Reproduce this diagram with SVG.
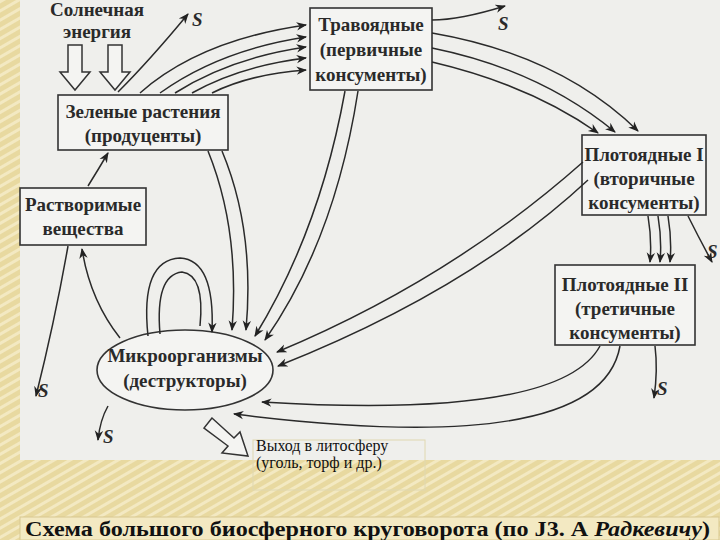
<svg xmlns="http://www.w3.org/2000/svg" width="720" height="540" viewBox="0 0 720 540">
<defs>
<pattern id="st" width="8" height="8" patternUnits="userSpaceOnUse" patternTransform="rotate(60)"><rect width="8" height="8" fill="#e8d9a0"/><rect width="3" height="8" fill="#f3e9c2"/></pattern>
<marker id="a" viewBox="0 0 10 10" refX="9" refY="5" markerWidth="7" markerHeight="7" orient="auto"><path d="M0,1 L10,5 L0,9 L3,5 Z" fill="#222"/></marker>
</defs>
<style>
.n{fill:#f4f4f2;stroke:#333;stroke-width:1.6}
.t{font-family:"Liberation Serif",serif;font-size:19px;font-weight:bold;fill:#2a2a2a;text-anchor:middle}
.s{font-family:"Liberation Serif",serif;font-size:19px;font-style:italic;font-weight:bold;fill:#2a2a2a}
.c path{fill:none;stroke:#2a2a2a;stroke-width:1.5;marker-end:url(#a)}
.h{fill:#f4f4f2;stroke:#333;stroke-width:1.5}
</style>
<rect width="720" height="540" fill="url(#st)"/>
<rect x="20" y="0" width="700" height="460" fill="#efefec"/>
<g id="sun"><text class="t" x="97" y="16">Солнечная</text><text class="t" x="97" y="38">энергия</text>
<path class="h" d="M68,45 H82 V72 H90 L75,90 L60,72 H68 Z"/><path class="h" d="M108,45 H122 V72 H130 L115,90 L100,72 H108 Z"/></g>
<g id="plants"><rect class="n" x="58" y="95" width="170" height="55"/><text class="t" x="143" y="118">Зеленые растения</text><text class="t" x="143" y="142">(продуценты)</text></g>
<g id="herb"><rect class="n" x="310" y="8" width="122" height="82"/><text class="t" x="371" y="31">Травоядные</text><text class="t" x="371" y="56">(первичные</text><text class="t" x="371" y="81">консументы)</text></g>
<g id="carn1"><rect class="n" x="582" y="135" width="124" height="80"/><text class="t" x="644" y="161">Плотоядные I</text><text class="t" x="644" y="185">(вторичные</text><text class="t" x="644" y="209">консументы)</text></g>
<g id="carn2"><rect class="n" x="555" y="265" width="140" height="80"/><text class="t" x="625" y="291">Плотоядные II</text><text class="t" x="625" y="315">(третичные</text><text class="t" x="625" y="339">консументы)</text></g>
<g id="soluble"><rect class="n" x="20" y="188" width="126" height="57"/><text class="t" x="83" y="211">Растворимые</text><text class="t" x="83" y="235">вещества</text></g>
<g id="micro"><ellipse class="n" cx="185" cy="370" rx="88" ry="40"/><text class="t" x="185" y="362">Микроорганизмы</text><text class="t" x="185" y="387">(деструкторы)</text></g>
<g class="c" id="connectors">
<path d="M118,92 Q150,60 188,14"/>
<path d="M140,93 Q200,40 306,25"/>
<path d="M160,93 Q220,50 306,37"/>
<path d="M175,93 Q230,58 306,47"/>
<path d="M192,93 Q240,66 306,58"/>
<path d="M212,93 Q250,74 306,70"/>
<path d="M432,20 Q460,20 505,6"/>
<path d="M432,33 Q560,55 638,131"/>
<path d="M432,48 Q540,70 615,132"/>
<path d="M432,62 Q530,85 598,133"/>
<path d="M208,151 Q240,230 232,330"/>
<path d="M222,151 Q255,230 246,330"/>
<path d="M345,91 Q320,230 255,336"/>
<path d="M358,91 Q335,240 265,340"/>
<path d="M583,162 Q450,280 277,352"/>
<path d="M588,180 Q470,290 278,366"/>
<path d="M600,346 Q560,420 262,402"/>
<path d="M620,346 Q600,460 234,414"/>
<path d="M648,216 Q652,240 650,262"/>
<path d="M658,216 Q662,240 660,262"/>
<path d="M668,216 Q672,240 670,262"/>
<path d="M688,216 Q700,240 712,262"/>
<path d="M655,346 Q658,370 654,398"/>
<path d="M88,186 Q98,170 108,153"/>
<path d="M120,338 Q90,300 82,249"/>
<path d="M68,246 Q55,320 36,396"/>
<path d="M108,406 Q100,420 98,440"/>
<path d="M148,336 Q140,260 180,258 Q215,260 212,332"/>
<path d="M160,334 Q155,275 182,272 Q205,275 200,326" style="marker-end:none"/>
</g>
<text class="s" x="192" y="26">S</text><text class="s" x="498" y="30">S</text><text class="s" x="707" y="258">S</text><text class="s" x="657" y="395">S</text><text class="s" x="38" y="397">S</text><text class="s" x="103" y="443">S</text>
<g id="litho"><path class="h" d="M212,418 L204,428 L228,446 L222,453 L248,456 L240,432 L234,438 Z"/>
<rect x="253" y="440" width="172" height="50" fill="none" stroke="#e0d8b0"/>
<text x="256" y="451" style="font-family:'Liberation Serif',serif;font-size:16px;fill:#111">Выход в литосферу</text>
<text x="256" y="468" style="font-family:'Liberation Serif',serif;font-size:16px;fill:#111">(уголь, торф и др.)</text></g>
<rect x="20" y="517" width="699" height="23" fill="#f3e9c2" stroke="#d8c890"/>
<text x="25" y="536" textLength="685" lengthAdjust="spacingAndGlyphs" style="font-family:'Liberation Serif',serif;font-size:20px;font-weight:bold;fill:#111">Схема большого биосферного круговорота (по J3. А <tspan font-style="italic">Радкевичу</tspan>)</text>
</svg>
